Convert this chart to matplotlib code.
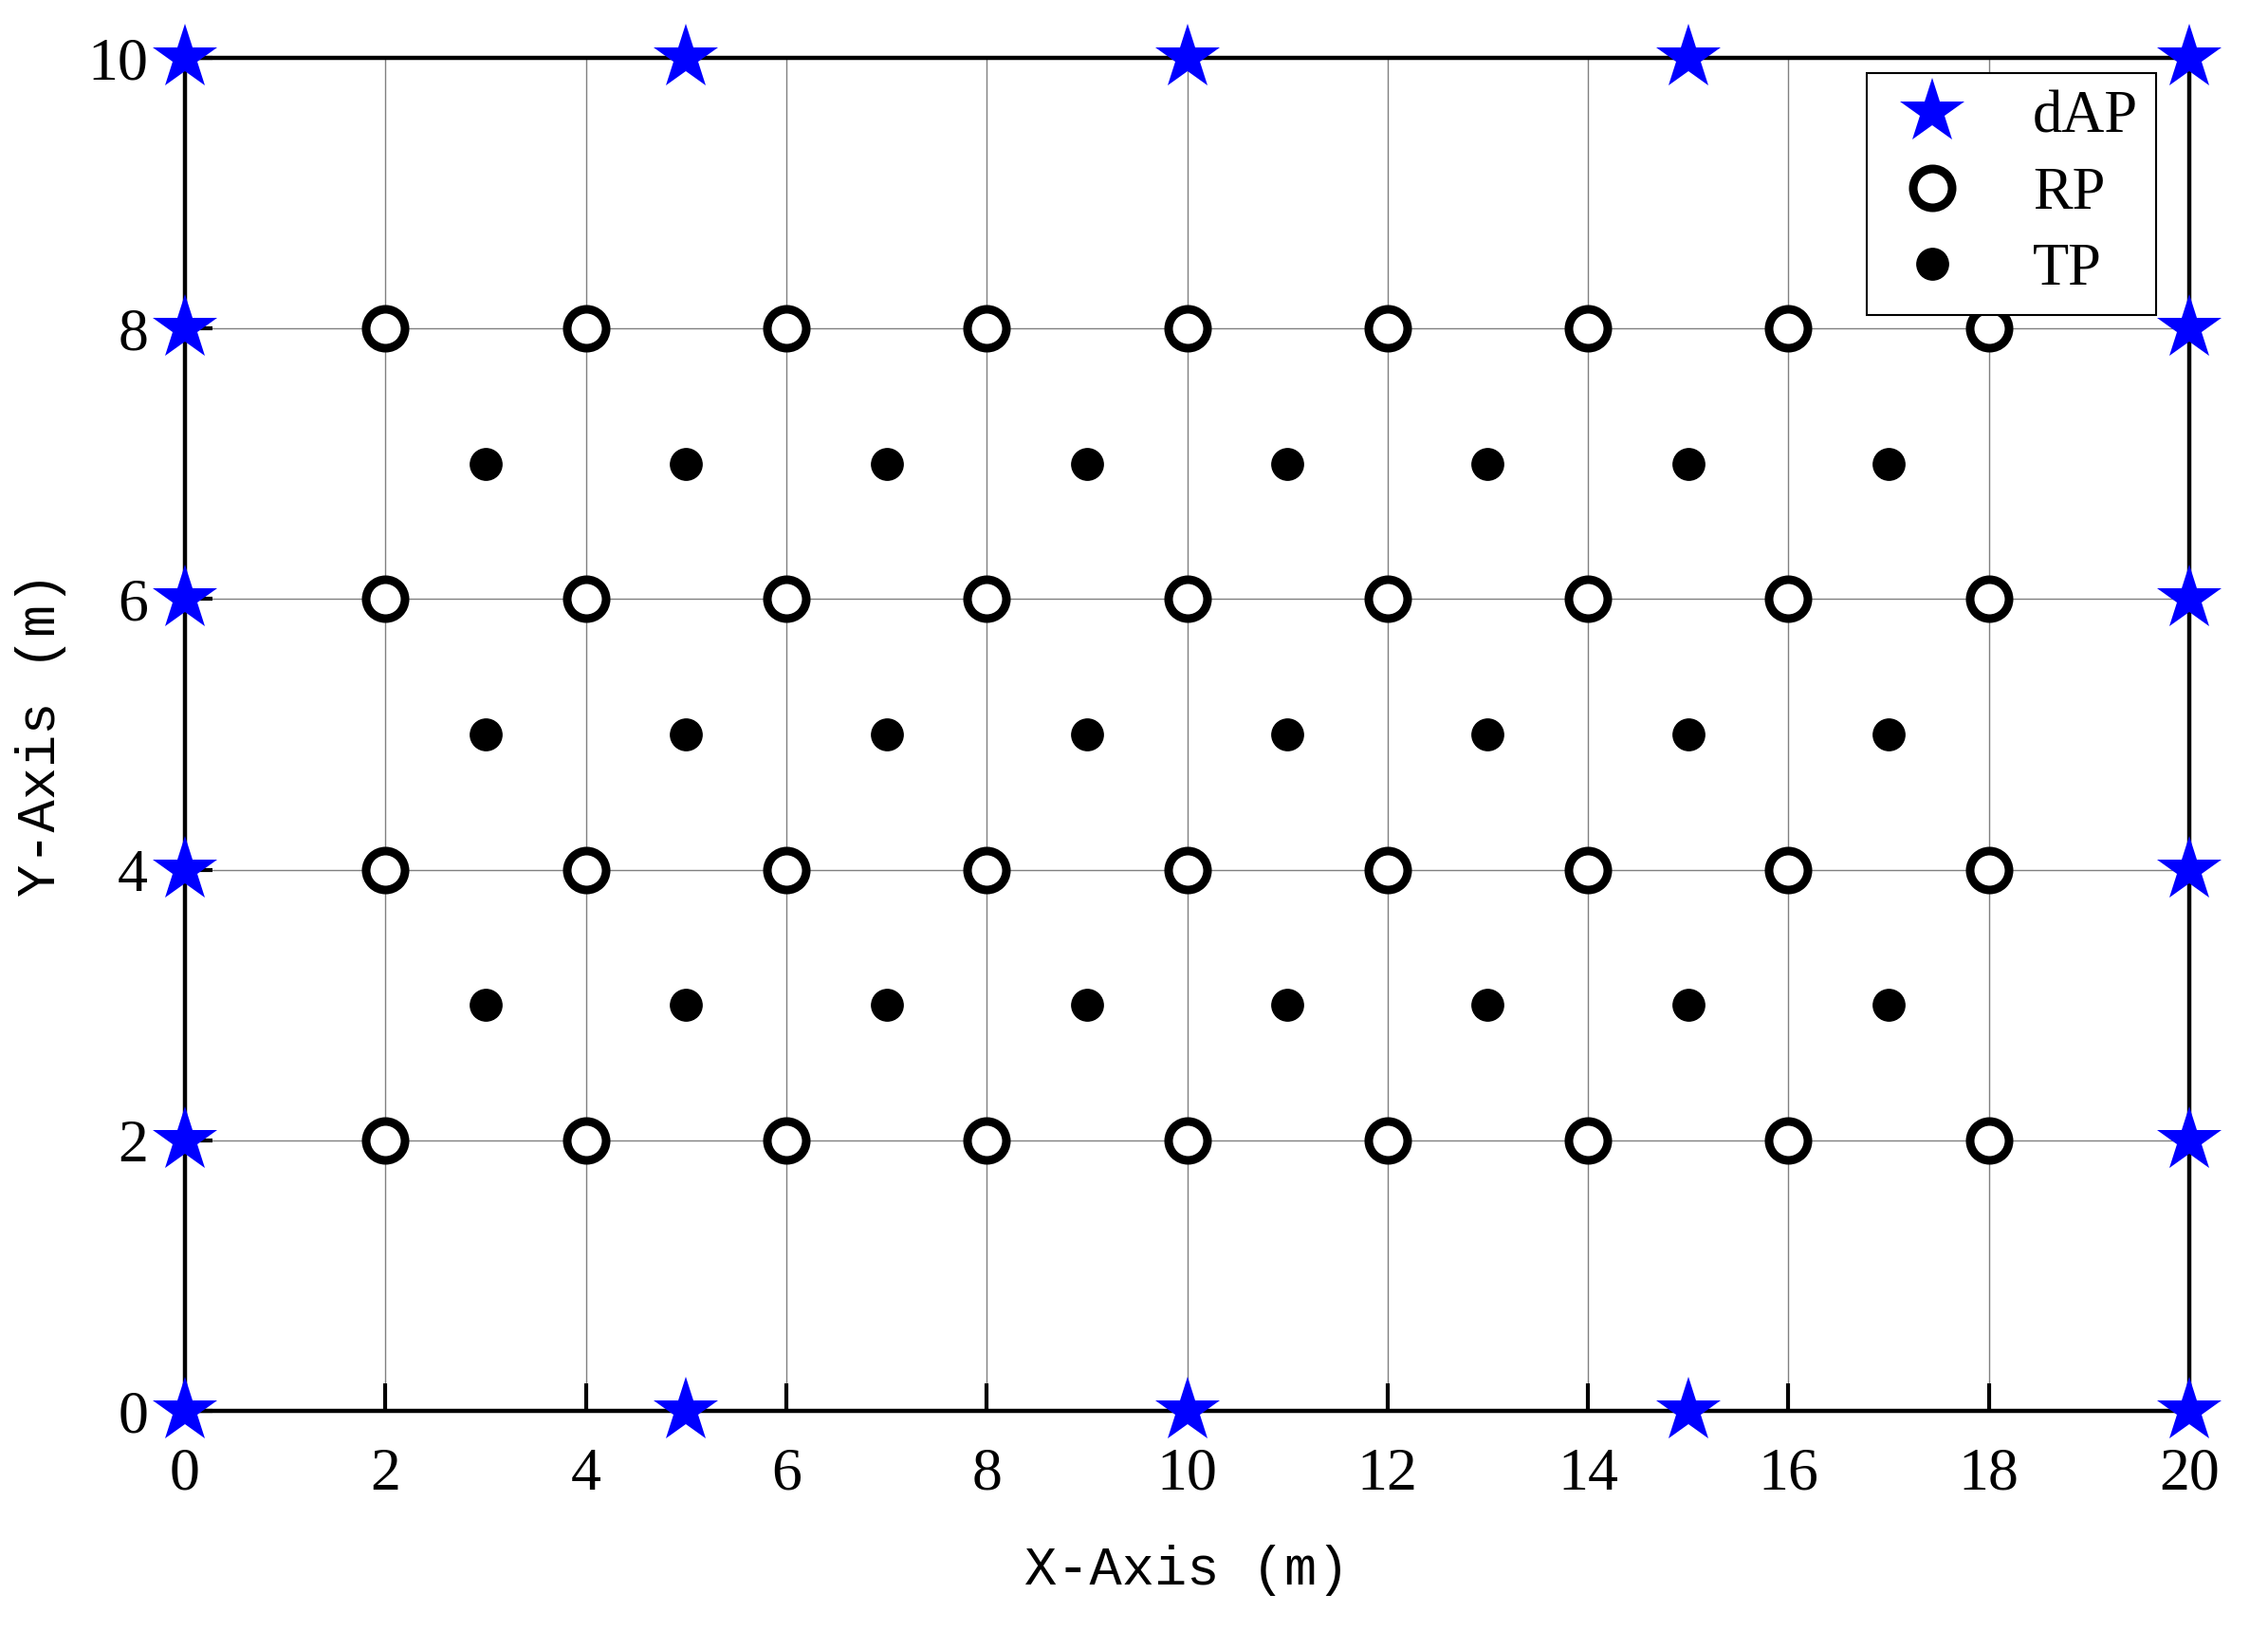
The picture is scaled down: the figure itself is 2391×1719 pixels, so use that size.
import matplotlib
matplotlib.use("Agg")
import matplotlib.pyplot as plt
import numpy as np

# Data
dap_x = [0, 5, 10, 15, 20, 0, 5, 10, 15, 20, 0, 0, 0, 0, 20, 20, 20, 20]
dap_y = [0, 0, 0, 0, 0, 10, 10, 10, 10, 10, 2, 4, 6, 8, 2, 4, 6, 8]
rp_xs = [2, 4, 6, 8, 10, 12, 14, 16, 18]
rp_ys = [2, 4, 6, 8]
tp_xs = [3, 5, 7, 9, 11, 13, 15, 17]
tp_ys = [3, 5, 7]
x_ticks = [0, 2, 4, 6, 8, 10, 12, 14, 16, 18, 20]
y_ticks = [0, 2, 4, 6, 8, 10]
labels = ["dAP", "RP", "TP"]

rp_x = [x for y in rp_ys for x in rp_xs]
rp_y = [y for y in rp_ys for x in rp_xs]
tp_x = [x for y in tp_ys for x in tp_xs]
tp_y = [y for y in tp_ys for x in tp_xs]

serif = ["Liberation Serif", "DejaVu Serif"]
mono = ["Liberation Mono", "DejaVu Sans Mono"]

fig = plt.figure(figsize=(23.91, 17.19), dpi=100)
ax = fig.add_axes([195/2391, 1-1487/1719, (2308-195)/2391, (1487-61)/1719])

ax.set_xlim(0, 20)
ax.set_ylim(0, 10)
ax.set_xticks(x_ticks)
ax.set_yticks(y_ticks)
ax.grid(True, color="#808080", linewidth=1.0)
ax.set_axisbelow(True)

for s in ax.spines.values():
    s.set_linewidth(3.2)
    s.set_zorder(3)

ax.tick_params(direction="in", length=21, width=3.0, pad=28,
               top=False, right=False, labelsize=46)
for lab in ax.get_xticklabels() + ax.get_yticklabels():
    lab.set_fontfamily(serif)

h1, = ax.plot(dap_x, dap_y, linestyle="none", marker="*", markersize=52,
              color="blue", markeredgewidth=0, clip_on=False, zorder=10, label=labels[0])
h2, = ax.plot(rp_x, rp_y, linestyle="none", marker="o", markersize=29.5,
              markerfacecolor="white", markeredgecolor="black", markeredgewidth=6.5,
              zorder=5, label=labels[1])
h3, = ax.plot(tp_x, tp_y, linestyle="none", marker="o", markersize=24,
              color="black", zorder=5, label=labels[2])

ax.set_xlabel("X-Axis (m)", fontsize=41, fontfamily=mono, labelpad=32)
ax.set_ylabel("Y-Axis (m)", fontsize=41, fontfamily=mono, labelpad=16)

leg = ax.legend(handles=[h1, h2, h3], loc="upper right",
                bbox_to_anchor=((2273-195)/2113, (1487-77)/1426),
                borderaxespad=0, prop={"family": serif, "size": 45},
                fancybox=False, edgecolor="black", framealpha=1,
                handlelength=1.6, handletextpad=0.9, borderpad=0.3,
                labelspacing=0.35)
leg.get_frame().set_linewidth(1.5)
leg.set_zorder(20)

fig.savefig("out.png", dpi=100)
